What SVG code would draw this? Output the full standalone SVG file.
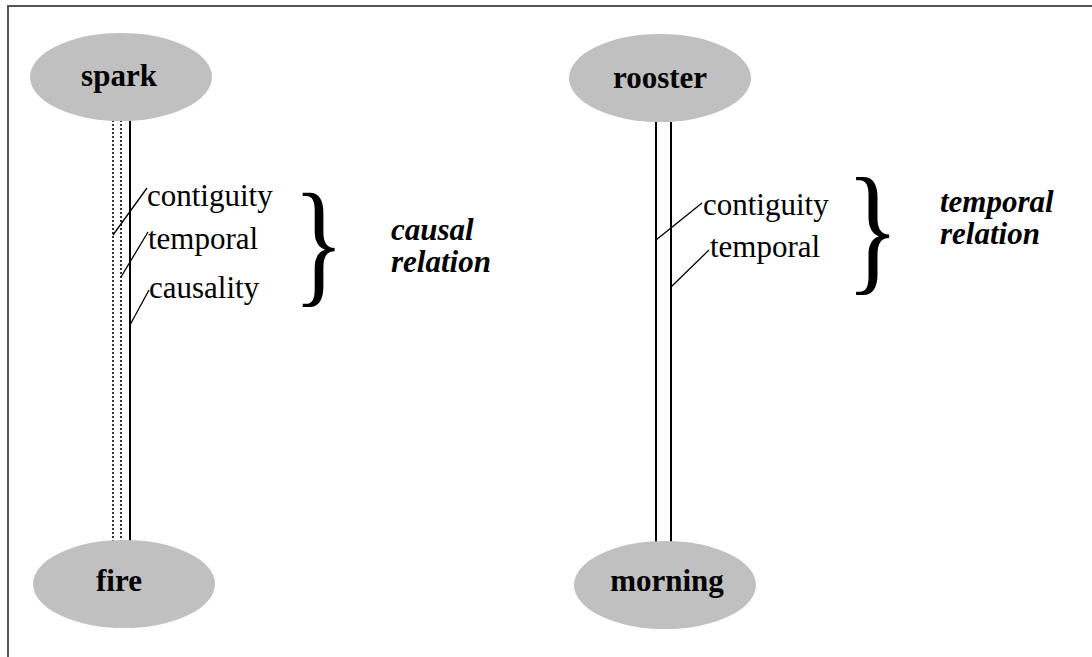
<svg xmlns="http://www.w3.org/2000/svg" width="1092" height="657" viewBox="0 0 1092 657">
  <style>
    .node { fill: #c0c0c0; }
    .nlabel { font-family: "Liberation Serif", "Times New Roman", serif; font-weight: bold; font-size: 31px; text-anchor: middle; fill: #000; }
    .label { font-family: "Liberation Serif", "Times New Roman", serif; font-size: 31px; fill: #000; }
    .rel { font-family: "Liberation Serif", "Times New Roman", serif; font-size: 31px; font-weight: bold; font-style: italic; fill: #000; }
    .brace { font-family: "Liberation Serif", "Times New Roman", serif; fill: #000; }
    .solid { stroke: #000; stroke-width: 2; fill: none; }
    .dotted { stroke: #000; stroke-width: 1.6; stroke-dasharray: 2 2; fill: none; }
    .leader { stroke: #000; stroke-width: 1.3; fill: none; }
    .frame { stroke: #555; stroke-width: 2; fill: none; }
  </style>

  <rect width="1092" height="657" fill="#fff"/>
  <!-- frame: top and left edges -->
  <path class="frame" d="M8 657 V6 H1092"/>

  <!-- connectors between event pairs -->
  <g id="connectors">
    <line class="dotted" x1="113" y1="120" x2="113" y2="541"/>
    <line class="dotted" x1="121" y1="120" x2="121" y2="541"/>
    <line class="solid" x1="130" y1="120" x2="130" y2="541"/>
    <line class="solid" x1="656" y1="122" x2="656" y2="542"/>
    <line class="solid" x1="671" y1="122" x2="671" y2="542"/>
  </g>

  <g id="node-spark">
    <ellipse class="node" cx="121" cy="77" rx="91" ry="44"/>
    <text class="nlabel" x="119" y="86">spark</text>
  </g>
  <g id="node-fire">
    <ellipse class="node" cx="124" cy="584" rx="91" ry="44"/>
    <text class="nlabel" x="119" y="591">fire</text>
  </g>
  <g id="node-rooster">
    <ellipse class="node" cx="660" cy="78" rx="91" ry="44"/>
    <text class="nlabel" x="660" y="88">rooster</text>
  </g>
  <g id="node-morning">
    <ellipse class="node" cx="665" cy="585" rx="91" ry="44"/>
    <text class="nlabel" x="667" y="591">morning</text>
  </g>

  <!-- link labels, causal pair -->
  <g id="labels-causal">
    <line class="leader" x1="113" y1="235" x2="147" y2="188"/>
    <line class="leader" x1="121" y1="277" x2="148" y2="232"/>
    <line class="leader" x1="130" y1="325" x2="149" y2="290"/>
    <text class="label" x="147" y="206">contiguity</text>
    <text class="label" x="148" y="249">temporal</text>
    <text class="label" x="149" y="298">causality</text>
    <text class="brace" font-size="137" transform="translate(293 289) scale(0.78 1)">}</text>
    <text class="rel" x="391" y="240">causal</text>
    <text class="rel" x="391" y="272">relation</text>
  </g>

  <!-- link labels, temporal pair -->
  <g id="labels-temporal">
    <line class="leader" x1="656" y1="240" x2="702" y2="203"/>
    <line class="leader" x1="671" y1="287" x2="709" y2="250"/>
    <text class="label" x="703" y="215">contiguity</text>
    <text class="label" x="710" y="257">temporal</text>
    <text class="brace" font-size="142" transform="translate(846 276) scale(0.78 1)">}</text>
    <text class="rel" x="940" y="212">temporal</text>
    <text class="rel" x="940" y="244">relation</text>
  </g>
</svg>
